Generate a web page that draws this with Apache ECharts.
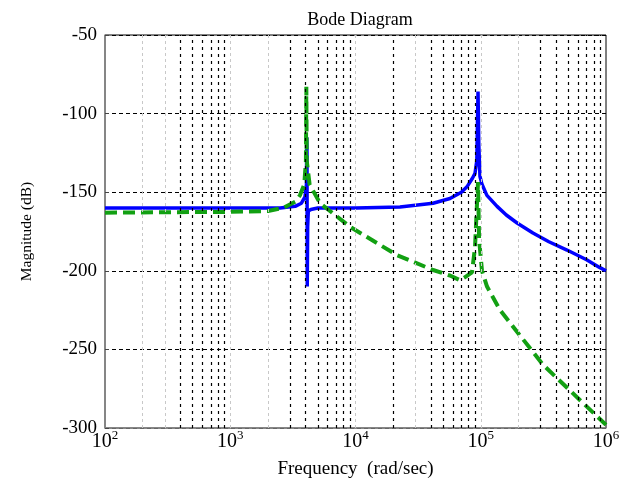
<!DOCTYPE html>
<html>
<head>
<meta charset="utf-8">
<style>
  html, body { margin: 0; padding: 0; background: #fff; }
  #chart { width: 624px; height: 489px; }
</style>
<script src="https://cdn.jsdelivr.net/npm/echarts@6/dist/echarts.min.js"></script>
</head>
<body>
<div id="chart"></div>
<script>
// frequency (rad/sec) and magnitude (dB)
var blueFreq = [100, 1000, 2500, 3300, 3700, 3950, 4060, 4080, 4100, 4120, 4150, 4200, 4400, 5000, 10000, 22650, 41600, 56800, 70000, 77600, 86000, 90000, 93000, 95100, 96500, 98600, 102300, 112000, 135000, 160000, 195000, 261000, 350000, 488000, 700000, 895000, 1000000];
var blueMag  = [-160, -160, -160, -159, -157, -153, -145, -115, -125, -210, -172, -162, -161, -160, -160, -159.4, -157, -154, -150, -146.6, -141, -138, -130, -86, -120, -140, -145, -152, -159, -164.5, -169.6, -176, -181.5, -186.8, -193, -198, -200];

var greenFreq = [100, 1000, 2000, 2640, 3300, 3600, 3900, 4020, 4050, 4080, 4300, 4580, 5210, 9040, 21400, 41600, 56800, 68200, 75000, 85100, 90000, 93000, 95100, 97000, 102300, 112200, 142600, 316000, 1000000];
var greenMag  = [-163, -162.5, -162, -160, -156, -152, -145, -130, -83, -130, -145, -149, -157, -172, -190, -199.5, -203, -206, -204, -201, -185, -160, -143.6, -180, -200, -210, -225, -260, -298];

// grid lines between the decades: light ones and dark ones
var lightMinor = [200, 300, 1000, 2000, 10000, 30000, 100000, 200000];
var darkMinor = [400, 500, 600, 700, 800, 900,
                 3000, 4000, 5000, 6000, 7000, 8000, 9000,
                 20000, 40000, 50000, 60000, 70000, 80000, 90000,
                 300000, 400000, 500000, 600000, 700000, 800000, 900000];

var yTicks = [-300, -250, -200, -150, -100, -50];

function pairs(xs, ys) {
  return xs.map(function (x, i) { return [x, ys[i]]; });
}

var serif = '"Liberation Serif", "DejaVu Serif", serif';
var chart = echarts.init(document.getElementById('chart'));

var option = {
  animation: false,
  backgroundColor: '#fff',
  title: {
    text: 'Bode Diagram',
    left: 355,
    top: 6,
    textAlign: 'center',
    textStyle: { fontFamily: serif, fontSize: 18, fontWeight: 'normal', color: '#000' }
  },
  grid: {
    left: 105, right: 18, top: 35, bottom: 61,
    show: true,
    borderColor: '#000',
    borderWidth: 1
  },
  xAxis: {
    type: 'log',
    logBase: 10,
    min: 100,
    max: 1000000,
    name: 'Frequency  (rad/sec)',
    nameLocation: 'middle',
    nameGap: 32,
    nameTextStyle: { fontFamily: serif, fontSize: 19, color: '#000' },
    axisLine: { lineStyle: { color: '#888', width: 1.5 } },
    axisTick: { show: false },
    splitLine: { show: false },
    axisLabel: {
      color: '#000',
      margin: 2,
      formatter: function (v) {
        var e = Math.round(Math.log(v) / Math.LN10);
        return '{b|10}{sup|' + e + '}';
      },
      rich: {
        b: { fontFamily: serif, fontSize: 20, color: '#000', verticalAlign: 'bottom', lineHeight: 22 },
        sup: { fontFamily: serif, fontSize: 13, color: '#000', verticalAlign: 'bottom', lineHeight: 14, padding: [0, 0, 10, 0] }
      }
    }
  },
  yAxis: {
    type: 'value',
    min: -300,
    max: -50,
    interval: 50,
    name: 'Magnitude (dB)',
    nameLocation: 'middle',
    nameGap: 70,
    nameTextStyle: { fontFamily: serif, fontSize: 15.5, color: '#000' },
    axisLine: { show: true, lineStyle: { color: '#888', width: 1.5 } },
    axisTick: { show: true, inside: true, length: 4, lineStyle: { color: '#444' } },
    axisLabel: {
      fontFamily: serif,
      fontSize: 19,
      color: '#000',
      margin: 8,
      customValues: yTicks
    },
    splitLine: { show: true, lineStyle: { color: '#000', type: [4, 3], width: 1 } }
  },
  series: [
    {
      type: 'line',
      data: [],
      silent: true,
      markLine: {
        silent: true,
        symbol: 'none',
        label: { show: false },
        lineStyle: { color: '#c8c8c8', type: [3, 3], width: 1 },
        data: lightMinor.map(function (f) { return { xAxis: f }; })
      }
    },
    {
      type: 'line',
      data: [],
      silent: true,
      markLine: {
        silent: true,
        symbol: 'none',
        label: { show: false },
        lineStyle: { color: '#000', type: [3, 4], width: 1.2 },
        data: darkMinor.map(function (f) { return { xAxis: f }; })
      }
    },
    {
      name: 'blue',
      type: 'line',
      data: pairs(blueFreq, blueMag),
      showSymbol: false,
      lineStyle: { color: '#0000ff', width: 3.5 },
      z: 3
    },
    {
      name: 'green',
      type: 'line',
      data: pairs(greenFreq, greenMag),
      showSymbol: false,
      lineStyle: { color: '#12a012', width: 4, type: [12, 6] },
      z: 4
    }
  ]
};

chart.setOption(option);
</script>
</body>
</html>
